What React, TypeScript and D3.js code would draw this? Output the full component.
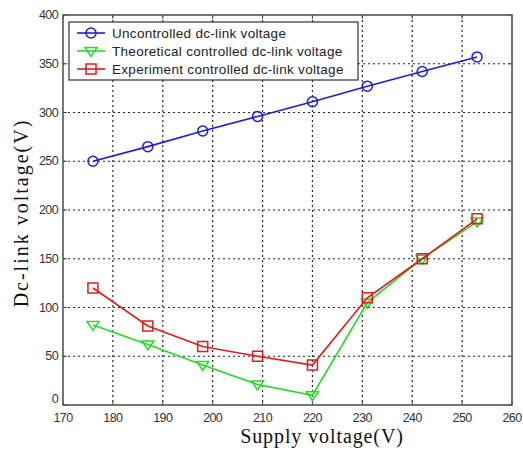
import { useEffect, useRef } from "react";
import * as d3 from "d3";

// supply voltage (V)
const supply = [176, 187, 198, 209, 220, 231, 242, 253];
const uncontrolled = [250, 265, 281, 296, 311, 327, 342, 357];
const theoretical = [82, 62, 41, 21, 10, 105, 150, 188];
const experiment = [120, 81, 60, 50, 41, 110, 150, 191];

const xTicks = [170, 180, 190, 200, 210, 220, 230, 240, 250, 260];
const yTicks = [0, 50, 100, 150, 200, 250, 300, 350, 400];

const seriesNames = [
  "Uncontrolled dc-link voltage",
  "Theoretical controlled dc-link voltage",
  "Experiment controlled dc-link voltage",
];

export default function App() {
  const ref = useRef<SVGSVGElement | null>(null);

  useEffect(() => {
    const width = 523;
    const height = 452;
    const margin = { top: 15, right: 11, bottom: 47, left: 63 };
    const w = width - margin.left - margin.right;
    const h = height - margin.top - margin.bottom;

    const svg = d3.select(ref.current);
    svg.selectAll("*").remove();

    svg.append("rect").attr("width", width).attr("height", height).attr("fill", "#fff");

    const g = svg.append("g").attr("transform", `translate(${margin.left},${margin.top})`);

    const x = d3.scaleLinear().domain([170, 260]).range([0, w]);
    const y = d3.scaleLinear().domain([0, 400]).range([h, 0]);

    // dotted grid
    const grid = g.append("g");
    xTicks.slice(1, -1).forEach((t) => {
      grid.append("line")
        .attr("x1", x(t)).attr("x2", x(t)).attr("y1", 0).attr("y2", h)
        .attr("stroke", "#222").attr("stroke-width", 1.2).attr("stroke-dasharray", "2,3");
    });
    yTicks.slice(1, -1).forEach((t) => {
      grid.append("line")
        .attr("x1", 0).attr("x2", w).attr("y1", y(t)).attr("y2", y(t))
        .attr("stroke", "#222").attr("stroke-width", 1.2).attr("stroke-dasharray", "2,3");
    });

    // inward ticks (matlab style)
    const tk = g.append("g").attr("stroke", "#444").attr("stroke-width", 1);
    xTicks.forEach((t) => {
      tk.append("line").attr("x1", x(t)).attr("x2", x(t)).attr("y1", h).attr("y2", h - 4);
      tk.append("line").attr("x1", x(t)).attr("x2", x(t)).attr("y1", 0).attr("y2", 4);
    });
    yTicks.forEach((t) => {
      tk.append("line").attr("x1", 0).attr("x2", 4).attr("y1", y(t)).attr("y2", y(t));
      tk.append("line").attr("x1", w).attr("x2", w - 4).attr("y1", y(t)).attr("y2", y(t));
    });

    // box
    g.append("rect")
      .attr("width", w).attr("height", h)
      .attr("fill", "none").attr("stroke", "#555").attr("stroke-width", 1.6);

    // tick labels
    const lbl = { fill: "#333", size: 12.5, family: "'Liberation Sans', Arial, sans-serif" };
    xTicks.forEach((t) => {
      g.append("text")
        .attr("x", x(t)).attr("y", h + 17)
        .attr("text-anchor", "middle")
        .attr("font-family", lbl.family).attr("font-size", lbl.size).attr("fill", lbl.fill)
        .attr("letter-spacing", -0.6)
        .text(t);
    });
    yTicks.forEach((t) => {
      g.append("text")
        .attr("x", -5).attr("y", y(t) + (t === 0 ? -2 : 4))
        .attr("text-anchor", "end")
        .attr("font-family", lbl.family).attr("font-size", lbl.size).attr("fill", lbl.fill)
        .attr("letter-spacing", -0.6)
        .text(t);
    });

    // axis titles
    svg.append("text")
      .attr("x", 322).attr("y", 443)
      .attr("text-anchor", "middle")
      .attr("font-family", "'Liberation Serif', 'Times New Roman', serif")
      .attr("font-size", 20).attr("fill", "#111")
      .attr("letter-spacing", 0.9)
      .text("Supply voltage(V)");
    svg.append("text")
      .attr("transform", `translate(28,213) rotate(-90)`)
      .attr("text-anchor", "middle")
      .attr("font-family", "'Liberation Serif', 'Times New Roman', serif")
      .attr("font-size", 20).attr("fill", "#111")
      .attr("letter-spacing", 2)
      .text("Dc-link voltage(V)");

    const colors = ["#1c1ce0", "#22dd22", "#e01b1b"];
    const series = [uncontrolled, theoretical, experiment];
    const line = d3.line<[number, number]>().x((d) => x(d[0])).y((d) => y(d[1]));

    const marker = (sel: d3.Selection<SVGGElement, unknown, null, undefined>, i: number, cx: number, cy: number) => {
      if (i === 0) {
        sel.append("circle").attr("cx", cx).attr("cy", cy).attr("r", 5)
          .attr("fill", "none").attr("stroke", colors[i]).attr("stroke-width", 1.5);
      } else if (i === 1) {
        const s = 6;
        sel.append("path")
          .attr("d", `M${cx - s},${cy - s * 0.6}L${cx + s},${cy - s * 0.6}L${cx},${cy + s * 0.9}Z`)
          .attr("fill", "none").attr("stroke", colors[i]).attr("stroke-width", 1.5);
      } else {
        sel.append("rect").attr("x", cx - 5).attr("y", cy - 5).attr("width", 10).attr("height", 10)
          .attr("fill", "none").attr("stroke", colors[i]).attr("stroke-width", 1.5);
      }
    };

    // draw green first, then red, then blue
    [1, 2, 0].forEach((i) => {
      const pts = supply.map((s, k) => [s, series[i][k]] as [number, number]);
      const sg = g.append("g");
      sg.append("path").datum(pts).attr("d", line)
        .attr("fill", "none").attr("stroke", colors[i]).attr("stroke-width", 1.6);
      pts.forEach((p) => marker(sg, i, x(p[0]), y(p[1])));
    });

    // legend
    const lg = svg.append("g").attr("transform", "translate(69,22)");
    lg.append("rect").attr("width", 289).attr("height", 58)
      .attr("fill", "#fff").attr("stroke", "#333").attr("stroke-width", 1.2);
    seriesNames.forEach((name, i) => {
      const yy = 11 + i * 18;
      const row = lg.append("g");
      row.append("line").attr("x1", 8).attr("x2", 36).attr("y1", yy).attr("y2", yy)
        .attr("stroke", colors[i]).attr("stroke-width", 1.6);
      marker(row, i, 22, yy);
      row.append("text")
        .attr("x", 43).attr("y", yy + 5)
        .attr("font-family", lbl.family).attr("font-size", 13.5).attr("fill", "#222")
        .attr("letter-spacing", 0.3)
        .text(name);
    });
  }, []);

  return (
    <svg
      ref={ref}
      width={523}
      height={452}
      style={{ position: "absolute", left: 0, top: 0, display: "block" }}
    />
  );
}
